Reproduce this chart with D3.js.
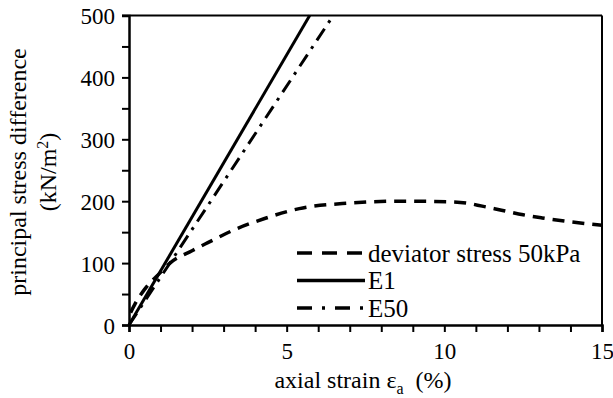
<!DOCTYPE html>
<html>
<head>
<meta charset="utf-8">
<script src="https://cdn.jsdelivr.net/npm/d3@7"></script>
<style>
  body { margin: 0; background: #fff; }
</style>
</head>
<body>
<div id="chart"></div>
<script>
// data
const strain = [0.05, 0.2, 0.5, 1.0, 1.3, 2.0, 2.5, 3.3, 4.3, 5.4, 7.0, 8.6, 10.2, 10.7, 11.2, 11.85, 12.5, 13.1, 13.8, 15];
const deviator = [20, 35, 58, 85, 100, 120, 133, 153, 172, 188, 197, 200, 199, 197, 192, 185, 178, 173, 168, 161];
const e1Line = [[0, 0], [5.73, 500]];
const e50Line = [[0, 0], [6.4, 494]];
const xTicks = [0, 5, 10, 15];
const yTicks = [0, 100, 200, 300, 400, 500];
const legendNames = ["deviator stress 50kPa", "E1", "E50"];

const FONT = "'Times New Roman', Times, 'Liberation Serif', 'DejaVu Serif', 'Noto Serif', serif";
const W = 613, H = 398;
const margin = { left: 129, top: 15.5, right: 11, bottom: 73 };
const w = W - margin.left - margin.right;
const h = H - margin.top - margin.bottom;

const svg = d3.select("#chart").append("svg")
  .attr("width", W).attr("height", H)
  .attr("font-family", FONT);
const g = svg.append("g")
  .attr("transform", "translate(" + margin.left + "," + margin.top + ")");

const x = d3.scaleLinear().domain([0, 15]).range([0, w]);
const y = d3.scaleLinear().domain([0, 500]).range([h, 0]);

// frame (top and right)
g.append("line").attr("x1", -7).attr("x2", w).attr("y1", 0).attr("y2", 0)
  .attr("stroke", "#000").attr("stroke-width", 2);
g.append("line").attr("x1", w).attr("x2", w).attr("y1", 0).attr("y2", h)
  .attr("stroke", "#000").attr("stroke-width", 2);

// axes with minor ticks
const xAxis = g.append("g").attr("transform", "translate(0," + h + ")")
  .call(d3.axisBottom(x).ticks(15).tickSize(7).tickFormat(d => xTicks.includes(d) ? d : ""));
const yAxis = g.append("g")
  .call(d3.axisLeft(y).ticks(10).tickSize(7).tickFormat(d => yTicks.includes(d) ? d : ""));
[xAxis, yAxis].forEach(a => {
  a.attr("font-family", null).attr("font-size", null);
  a.select(".domain").attr("stroke-width", 2.5);
  a.selectAll(".tick line").attr("stroke-width", 2);
  a.selectAll("text").style("font-size", "23px").style("font-family", FONT);
});
xAxis.selectAll("text").attr("dy", "1.05em");
yAxis.selectAll("text").attr("x", -14).attr("dy", "0.35em");

const line = d3.line().x(d => x(d[0])).y(d => y(d[1]));
const devData = strain.map((s, i) => [s, deviator[i]]);

g.append("path").datum(e1Line).attr("d", line)
  .attr("fill", "none").attr("stroke", "#000").attr("stroke-width", 3);
g.append("path").datum(e50Line).attr("d", line)
  .attr("fill", "none").attr("stroke", "#000").attr("stroke-width", 3)
  .attr("stroke-dasharray", "14,7,3,7");
g.append("path").datum(devData).attr("d", d3.line().curve(d3.curveMonotoneX).x(d => x(d[0])).y(d => y(d[1])))
  .attr("fill", "none").attr("stroke", "#000").attr("stroke-width", 3.5)
  .attr("stroke-dasharray", "12,8");

// legend
const dashes = ["15,10", null, "15,10,3,10"];
const leg = svg.append("g");
legendNames.forEach((name, i) => {
  const ly = 253 + i * 27.5;
  leg.append("line").attr("x1", 297).attr("x2", 365).attr("y1", ly).attr("y2", ly)
    .attr("stroke", "#000").attr("stroke-width", 3.5)
    .attr("stroke-dasharray", dashes[i]);
  leg.append("text").attr("x", 368).attr("y", ly).attr("dy", "0.35em")
    .style("font-family", FONT).style("font-size", "25px").text(name);
});

// axis titles
const xt = svg.append("text").attr("x", 363).attr("y", 388)
  .attr("text-anchor", "middle").style("font-family", FONT).style("font-size", "24px");
xt.append("tspan").text("axial strain ε");
xt.append("tspan").attr("dy", 6).style("font-size", "16px").text("a");
xt.append("tspan").attr("dy", -6).text("\u2002(%)");

const yt = svg.append("text").attr("transform", "translate(26,172) rotate(-90)")
  .attr("text-anchor", "middle").style("font-family", FONT).style("font-size", "24px")
  .text("principal stress difference");
const yt2 = svg.append("text").attr("transform", "translate(56,172) rotate(-90)")
  .attr("text-anchor", "middle").style("font-family", FONT).style("font-size", "24px");
yt2.append("tspan").text("(kN/m");
yt2.append("tspan").attr("dy", -8).style("font-size", "16px").text("2");
yt2.append("tspan").attr("dy", 8).text(")");
</script>
</body>
</html>
